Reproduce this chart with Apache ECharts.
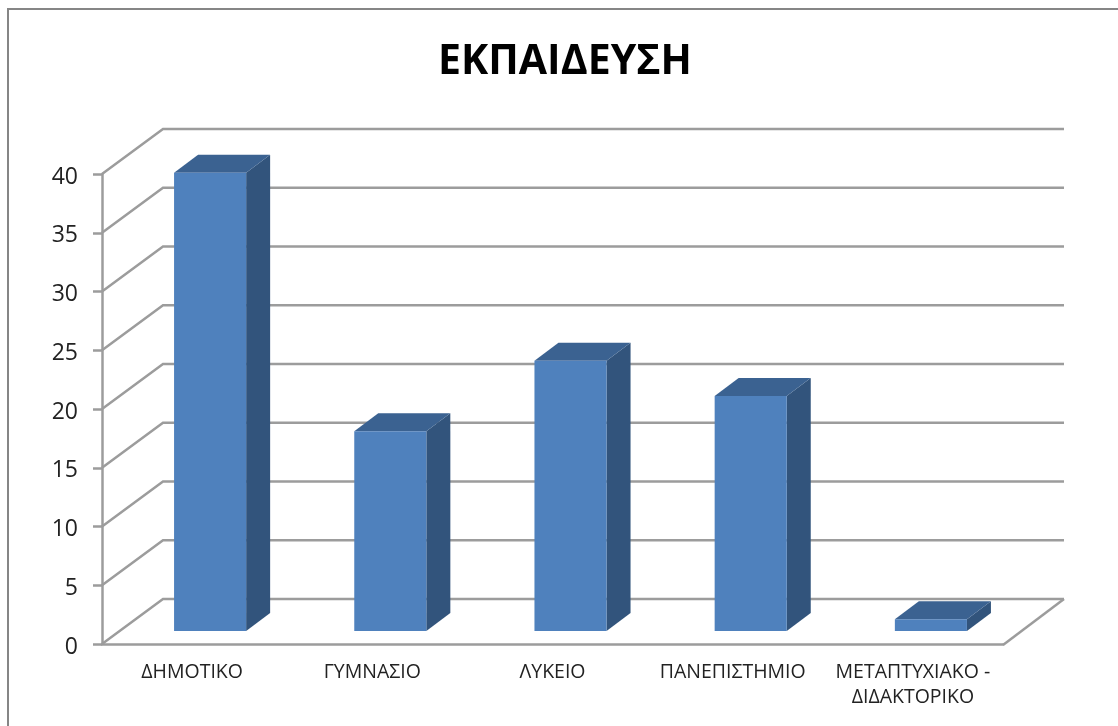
<!DOCTYPE html>
<html>
<head>
<meta charset="utf-8">
<style>html,body{margin:0;padding:0;background:#fff}#c{width:1118px;height:726px}</style>
<script src="https://cdn.jsdelivr.net/npm/echarts@6/dist/echarts.min.js"></script>
</head>
<body>
<div id="c"></div>
<script>
const titleText = 'ΕΚΠΑΙΔΕΥΣΗ';
const categories = ['ΔΗΜΟΤΙΚΟ', 'ΓΥΜΝΑΣΙΟ', 'ΛΥΚΕΙΟ', 'ΠΑΝΕΠΙΣΤΗΜΙΟ', 'ΜΕΤΑΠΤΥΧΙΑΚΟ -\nΔΙΔΑΚΤΟΡΙΚΟ'];
const values = [39, 17, 23, 20, 1];
const yTicks = [0, 5, 10, 15, 20, 25, 30, 35, 40];

const FONT = '"Open Sans", "Noto Sans", sans-serif';
const LINE = '#9c9c9c';
const WALL_DX = 61, WALL_DY = 45;      // depth of the chart box
const BAR_DX = 24, BAR_DY = 18;        // depth of a bar
const BAR_SHIFT_X = 18, BAR_SHIFT_Y = 13; // bar placement inside the floor

function renderWall(params, api) {
  const p = api.coord([0, api.value(0)]);
  const box = params.coordSys;
  const x0 = box.x, y = p[1];
  const style = { stroke: LINE, lineWidth: 2.5, fill: null };
  const kids = [
    { type: 'polyline', shape: { points: [[x0, y], [x0 + WALL_DX, y - WALL_DY], [x0 + box.width + WALL_DX, y - WALL_DY]] }, style }
  ];
  if (api.value(0) === 0) {
    kids.push({ type: 'line', shape: { x1: x0 + box.width, y1: y + 1, x2: x0 + box.width + WALL_DX, y2: y - WALL_DY }, style });
  }
  return { type: 'group', children: kids };
}

function renderBar(params, api) {
  const i = api.value(0), v = api.value(1);
  const base = api.coord([i, 0]);
  const top = api.coord([i, v]);
  const w = api.size([1, 0])[0] * 0.4;
  const l = base[0] - w / 2 + BAR_SHIFT_X, r = l + w;
  const b = base[1] - BAR_SHIFT_Y, t = top[1] - BAR_SHIFT_Y;
  const dx = BAR_DX, dy = BAR_DY;
  return {
    type: 'group',
    children: [
      { type: 'polygon', shape: { points: [[r, t], [r + dx, t - dy], [r + dx, b - dy], [r, b]] }, style: { fill: '#32547c' } },
      { type: 'polygon', shape: { points: [[l, t], [l + dx, t - dy], [r + dx, t - dy], [r, t]] }, style: { fill: '#3b6291' } },
      { type: 'rect', shape: { x: l, y: t, width: w, height: b - t }, style: { fill: '#4f81bd' } }
    ]
  };
}

const chart = echarts.init(document.getElementById('c'), null, { renderer: 'canvas' });
chart.setOption({
  animation: false,
  backgroundColor: '#fff',
  title: {
    text: titleText, left: 565, textAlign: 'center', top: 42, padding: 0,
    textStyle: { fontFamily: FONT, fontWeight: 'bold', fontSize: 41, color: '#000' }
  },
  graphic: [{
    type: 'rect', silent: true, z: -10,
    shape: { x: 8, y: 9, width: 1300, height: 900 },
    style: { fill: null, stroke: '#868686', lineWidth: 2 }
  }],
  grid: { left: 102, top: 174, width: 901, height: 470, containLabel: false },
  xAxis: {
    type: 'category', data: categories,
    axisLine: { show: true, lineStyle: { color: LINE, width: 2.5 } },
    axisTick: { show: false },
    axisLabel: { color: '#222', fontFamily: FONT, fontSize: 19.5, margin: 16, lineHeight: 25, interval: 0 },
    splitLine: { show: false }
  },
  yAxis: {
    type: 'value', min: 0, max: 40, interval: 5,
    axisLine: { show: true, lineStyle: { color: LINE, width: 2.5 } },
    axisTick: { show: true, length: 9, lineStyle: { color: LINE, width: 2.5 } },
    axisLabel: { color: '#222', fontFamily: FONT, fontSize: 23, margin: 24, verticalAlign: 'top', lineHeight: 6 },
    splitLine: { show: false }
  },
  series: [
    { type: 'custom', name: 'wall', silent: true, z: 1, coordinateSystem: 'cartesian2d',
      renderItem: renderWall, encode: { y: 0 }, data: yTicks.map(t => [t]) },
    { type: 'custom', name: 'ΕΚΠΑΙΔΕΥΣΗ', z: 3, coordinateSystem: 'cartesian2d',
      renderItem: renderBar, encode: { x: 0, y: 1 }, data: values.map((v, i) => [i, v]) }
  ]
});
</script>
</body>
</html>
